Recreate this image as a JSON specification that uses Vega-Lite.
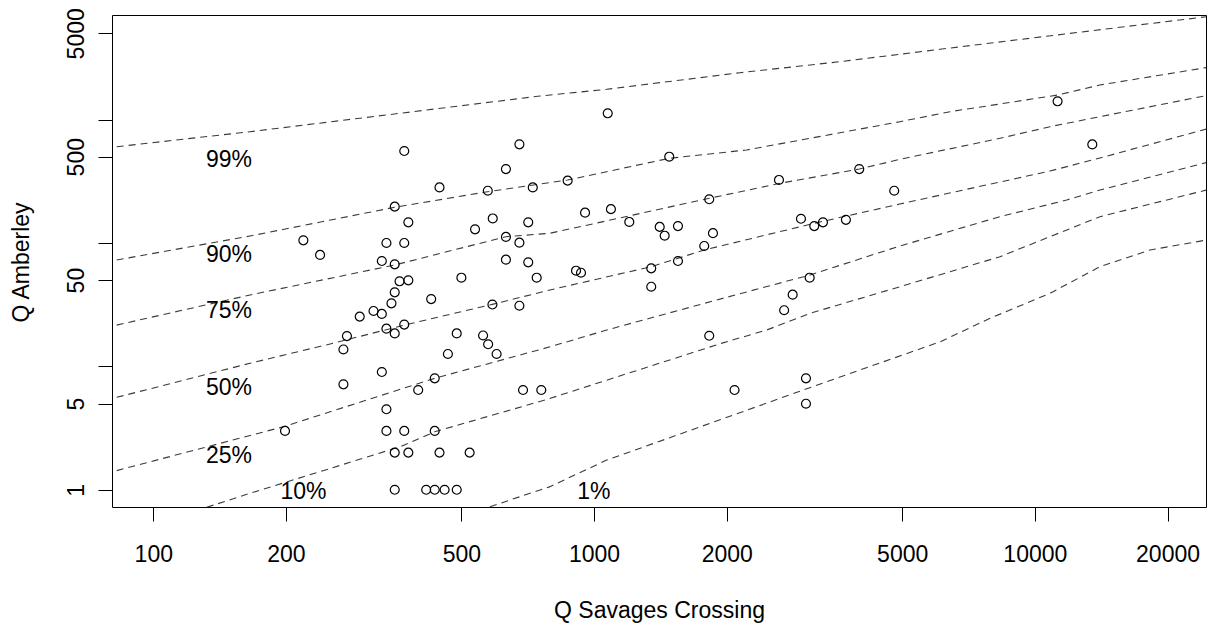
{
  "$schema": "https://vega.github.io/schema/vega-lite/v6.json",
  "autosize": "none",
  "width": 1094,
  "height": 492,
  "padding": {"left": 112, "top": 15, "right": 1, "bottom": 117},
  "background": "white",
  "config": {
    "font": "Liberation Sans",
    "view": {"stroke": "black", "strokeWidth": 1},
    "axis": {
      "grid": false,
      "domain": false,
      "tickColor": "black",
      "tickWidth": 1,
      "tickSize": 14,
      "labelColor": "black",
      "labelFontSize": 23,
      "labelFont": "Liberation Sans",
      "titleColor": "black",
      "titleFontSize": 23,
      "titleFont": "Liberation Sans",
      "titleFontWeight": "normal"
    }
  },
  "datasets": {
    "points": [
      {"x": 1074, "y": 1124}, {"x": 11260, "y": 1406}, {"x": 13500, "y": 629}, {"x": 677, "y": 630},
      {"x": 371, "y": 556}, {"x": 1481, "y": 500}, {"x": 631, "y": 397}, {"x": 3996, "y": 397},
      {"x": 446, "y": 282}, {"x": 574, "y": 265}, {"x": 726, "y": 282}, {"x": 2627, "y": 324},
      {"x": 4797, "y": 265}, {"x": 871, "y": 320}, {"x": 353, "y": 197}, {"x": 1825, "y": 226},
      {"x": 954, "y": 176}, {"x": 1092, "y": 188}, {"x": 379, "y": 147}, {"x": 589, "y": 158},
      {"x": 709, "y": 147}, {"x": 1202, "y": 148}, {"x": 1409, "y": 135}, {"x": 1550, "y": 137},
      {"x": 2947, "y": 157}, {"x": 3159, "y": 137}, {"x": 3306, "y": 147}, {"x": 3727, "y": 154},
      {"x": 537, "y": 129}, {"x": 1446, "y": 114.5}, {"x": 1861, "y": 120}, {"x": 219, "y": 105},
      {"x": 338, "y": 100}, {"x": 371, "y": 100}, {"x": 631, "y": 112}, {"x": 677, "y": 100.5},
      {"x": 1778, "y": 94.5}, {"x": 239, "y": 80}, {"x": 330, "y": 71.4}, {"x": 353, "y": 67.1},
      {"x": 631, "y": 73.2}, {"x": 709, "y": 69.7}, {"x": 1550, "y": 71.4}, {"x": 910, "y": 59.6},
      {"x": 934, "y": 57.4}, {"x": 1348, "y": 62.3}, {"x": 500, "y": 52.3}, {"x": 741, "y": 52.3},
      {"x": 3084, "y": 52.3}, {"x": 362, "y": 48.9}, {"x": 379, "y": 49.8}, {"x": 1348, "y": 44.2},
      {"x": 353, "y": 39.8}, {"x": 2822, "y": 38.1}, {"x": 427, "y": 35.1}, {"x": 347, "y": 32.4},
      {"x": 588, "y": 31.7}, {"x": 677, "y": 31.0}, {"x": 2699, "y": 28.5}, {"x": 316, "y": 28.1},
      {"x": 330, "y": 26.6}, {"x": 294, "y": 25.3}, {"x": 338, "y": 20.2}, {"x": 371, "y": 21.8},
      {"x": 353, "y": 18.5}, {"x": 275, "y": 17.6}, {"x": 488, "y": 18.5}, {"x": 560, "y": 17.8},
      {"x": 575, "y": 15.1}, {"x": 601, "y": 12.6}, {"x": 466, "y": 12.6}, {"x": 1825, "y": 17.7},
      {"x": 270, "y": 13.7}, {"x": 330, "y": 9.0}, {"x": 435, "y": 8.0}, {"x": 3025, "y": 8.0},
      {"x": 270, "y": 7.15}, {"x": 399, "y": 6.43}, {"x": 690, "y": 6.43}, {"x": 759, "y": 6.43},
      {"x": 2083, "y": 6.43}, {"x": 3025, "y": 4.98}, {"x": 338, "y": 4.49}, {"x": 199, "y": 3},
      {"x": 338, "y": 3}, {"x": 371, "y": 3}, {"x": 435, "y": 3}, {"x": 353, "y": 2},
      {"x": 379, "y": 2}, {"x": 446, "y": 2}, {"x": 522, "y": 2}, {"x": 353, "y": 1},
      {"x": 416, "y": 1}, {"x": 435, "y": 1}, {"x": 458, "y": 1}, {"x": 488, "y": 1}
    ],
    "lines": [
      {"q": "99%", "x": 82.6, "y": 602.6}, {"q": "99%", "x": 165.8, "y": 797.3}, {"q": "99%", "x": 362.8, "y": 1124},
      {"q": "99%", "x": 754, "y": 1552}, {"q": "99%", "x": 1068, "y": 1759}, {"q": "99%", "x": 2143, "y": 2397},
      {"q": "99%", "x": 3612, "y": 2944}, {"q": "99%", "x": 6092, "y": 3710}, {"q": "99%", "x": 8779, "y": 4355},
      {"q": "99%", "x": 24530, "y": 6816},
      {"q": "90%", "x": 82.6, "y": 72.8}, {"q": "90%", "x": 165.8, "y": 113.9}, {"q": "90%", "x": 352.9, "y": 194.5},
      {"q": "90%", "x": 573.6, "y": 260.3}, {"q": "90%", "x": 871.2, "y": 323.7}, {"q": "90%", "x": 1481, "y": 485.3},
      {"q": "90%", "x": 2219, "y": 567}, {"q": "90%", "x": 4943, "y": 960.7}, {"q": "90%", "x": 6419, "y": 1158},
      {"q": "90%", "x": 8334, "y": 1337}, {"q": "90%", "x": 11263, "y": 1581}, {"q": "90%", "x": 14048, "y": 1905},
      {"q": "90%", "x": 24530, "y": 2641},
      {"q": "75%", "x": 82.6, "y": 21.6}, {"q": "75%", "x": 165.8, "y": 37.9}, {"q": "75%", "x": 352.9, "y": 66.3},
      {"q": "75%", "x": 631.1, "y": 112.4}, {"q": "75%", "x": 794.3, "y": 119.8}, {"q": "75%", "x": 1825, "y": 230.1},
      {"q": "75%", "x": 2641, "y": 304.4}, {"q": "75%", "x": 3996, "y": 397.4}, {"q": "75%", "x": 4943, "y": 476.4},
      {"q": "75%", "x": 8334, "y": 704.8}, {"q": "75%", "x": 10822, "y": 875.2}, {"q": "75%", "x": 14048, "y": 1055},
      {"q": "75%", "x": 24530, "y": 1566},
      {"q": "50%", "x": 82.6, "y": 5.61}, {"q": "50%", "x": 165.8, "y": 10.6}, {"q": "50%", "x": 256, "y": 15.4},
      {"q": "50%", "x": 371, "y": 21.6}, {"q": "50%", "x": 587.6, "y": 31.8}, {"q": "50%", "x": 794.3, "y": 41.6},
      {"q": "50%", "x": 1348, "y": 64.2}, {"q": "50%", "x": 1778, "y": 87.7}, {"q": "50%", "x": 3159, "y": 144.3},
      {"q": "50%", "x": 4943, "y": 206.9}, {"q": "50%", "x": 8334, "y": 311.9}, {"q": "50%", "x": 10822, "y": 382.9},
      {"q": "50%", "x": 14048, "y": 488}, {"q": "50%", "x": 24530, "y": 838.5},
      {"q": "25%", "x": 82.6, "y": 1.43}, {"q": "25%", "x": 197.2, "y": 3.24}, {"q": "25%", "x": 434.8, "y": 8.0},
      {"q": "25%", "x": 794.3, "y": 14.4}, {"q": "25%", "x": 1068, "y": 19.7}, {"q": "25%", "x": 1897, "y": 34.5},
      {"q": "25%", "x": 3089, "y": 55.0}, {"q": "25%", "x": 4943, "y": 94.5}, {"q": "25%", "x": 8334, "y": 163.3},
      {"q": "25%", "x": 11808, "y": 222.9}, {"q": "25%", "x": 14048, "y": 268.6}, {"q": "25%", "x": 24530, "y": 448.7},
      {"q": "10%", "x": 132.2, "y": 0.721}, {"q": "10%", "x": 165.8, "y": 0.936}, {"q": "10%", "x": 362.8, "y": 2.23},
      {"q": "10%", "x": 434.8, "y": 2.95}, {"q": "10%", "x": 773.9, "y": 5.34}, {"q": "10%", "x": 1960, "y": 15.5},
      {"q": "10%", "x": 2464, "y": 19.7}, {"q": "10%", "x": 3089, "y": 26.9}, {"q": "10%", "x": 4943, "y": 44.2},
      {"q": "10%", "x": 8334, "y": 77.4}, {"q": "10%", "x": 14048, "y": 163.3}, {"q": "10%", "x": 24530, "y": 268.6},
      {"q": "1%", "x": 580.6, "y": 0.729}, {"q": "1%", "x": 794.3, "y": 1.06}, {"q": "1%", "x": 1068, "y": 1.74},
      {"q": "1%", "x": 1739, "y": 3.23}, {"q": "1%", "x": 3025, "y": 6.55}, {"q": "1%", "x": 6092, "y": 15.8},
      {"q": "1%", "x": 7911, "y": 24.5}, {"q": "1%", "x": 10822, "y": 39.1}, {"q": "1%", "x": 14048, "y": 64.2},
      {"q": "1%", "x": 18243, "y": 87.7}, {"q": "1%", "x": 24530, "y": 105.7}
    ],
    "labels": [
      {"label": "99%", "x": 148.5, "y": 415},
      {"label": "90%", "x": 148.5, "y": 69.7},
      {"label": "75%", "x": 148.5, "y": 24.5},
      {"label": "50%", "x": 148.5, "y": 5.86},
      {"label": "25%", "x": 148.5, "y": 1.657},
      {"label": "10%", "x": 219.1, "y": 0.837},
      {"label": "1%", "x": 998.5, "y": 0.839}
    ]
  },
  "encoding": {
    "x": {
      "field": "x",
      "type": "quantitative",
      "scale": {"type": "log", "domain": [80.6, 24450], "nice": false, "zero": false},
      "axis": {
        "values": [100, 200, 500, 1000, 2000, 5000, 10000, 20000],
        "format": "d",
        "labelBaseline": "alphabetic",
        "labelPadding": 40,
        "labelAlign": "center",
        "title": "Q Savages Crossing",
        "titleBaseline": "alphabetic",
        "titleX": 547,
        "titleY": 110.5,
        "titleAnchor": "middle",
        "labelFlush": false,
        "labelOverlap": false
      }
    },
    "y": {
      "field": "y",
      "type": "quantitative",
      "scale": {"type": "log", "domain": [0.725, 7036], "nice": false, "zero": false},
      "axis": {
        "values": [1, 5, 10, 50, 100, 500, 1000, 5000],
        "format": "d",
        "labelExpr": "(datum.value == 10 || datum.value == 100 || datum.value == 1000) ? '' : datum.label",
        "labelAngle": 270,
        "labelAlign": "center",
        "labelBaseline": "alphabetic",
        "labelPadding": 15,
        "labelFlush": false,
        "labelOverlap": false,
        "title": "Q Amberley",
        "titleAngle": 270,
        "titleAlign": "center",
        "titleBaseline": "alphabetic",
        "titleX": -83.5,
        "titleY": 247
      }
    }
  },
  "layer": [
    {
      "data": {"name": "lines"},
      "mark": {"type": "line", "clip": true, "stroke": "#3a3a3a", "strokeWidth": 1.1, "strokeDash": [7, 5]},
      "encoding": {"detail": {"field": "q", "type": "nominal"}}
    },
    {
      "data": {"name": "points"},
      "mark": {"type": "point", "shape": "circle", "filled": false, "stroke": "black", "strokeWidth": 1.2, "size": 80, "opacity": 1}
    },
    {
      "data": {"name": "labels"},
      "mark": {"type": "text", "align": "center", "baseline": "alphabetic", "fontSize": 23, "font": "Liberation Sans", "color": "black"},
      "encoding": {"text": {"field": "label", "type": "nominal"}}
    }
  ]
}
